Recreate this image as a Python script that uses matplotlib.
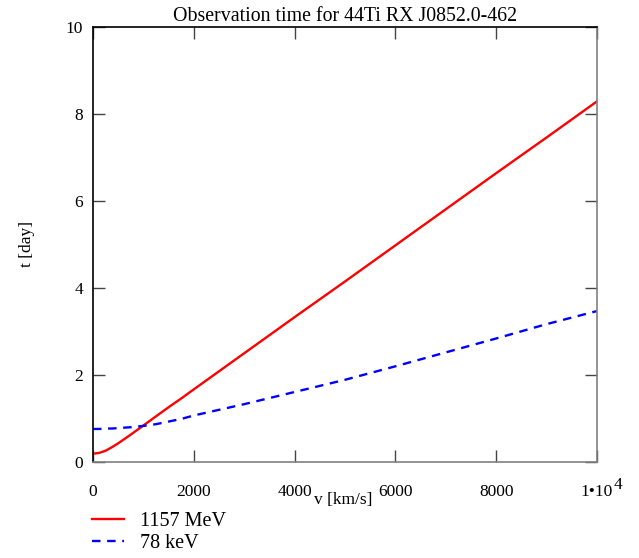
import matplotlib
matplotlib.use("Agg")
import matplotlib.pyplot as plt

plt.rcParams['font.family'] = ['Liberation Serif', 'DejaVu Serif']

# velocity [km/s]
v = [0, 125, 250, 375, 500, 750, 1000, 1250, 1500, 1750, 2000, 3000, 4000,
     5000, 6000, 7000, 8000, 9000, 10000]
# observation time [day]
t_mev = [0.19, 0.21, 0.26, 0.34, 0.43, 0.63, 0.84, 1.05, 1.26, 1.46, 1.67,
         2.50, 3.33, 4.15, 4.98, 5.81, 6.64, 7.46, 8.29]
t_kev = [0.76, 0.76, 0.77, 0.77, 0.78, 0.80, 0.83, 0.87, 0.93, 0.99, 1.07,
         1.33, 1.61, 1.89, 2.20, 2.52, 2.84, 3.17, 3.47]

xticks = [0, 2000, 4000, 6000, 8000, 10000]
xticklabels = ['0', '2000', '4000', '6000', '8000', '1•10']
yticks = [0, 2, 4, 6, 8, 10]

fig = plt.figure(figsize=(6.39, 5.58), dpi=100)
ax = fig.add_axes([0.1455, 0.172, 0.7887, 0.7796])

ax.plot(v, t_mev, color='red', lw=1.7, label='1157 MeV')
ax.plot(v, t_kev, color='blue', lw=1.7, dashes=(3.6, 2.8), label='78 keV')

ax.set_xlim(0, 10000)
ax.set_ylim(0, 10)
ax.set_xticks(xticks)
ax.set_xticklabels(xticklabels)
ax.set_yticks(yticks)
ax.tick_params(axis='both', direction='in', length=8.5, width=1, color='#444444',
               labelsize=12.5, top=True, right=True)
ax.tick_params(axis='x', pad=16)
ax.tick_params(axis='y', pad=7)
# exponent of the last x tick label
ax.annotate('4', xy=(1, 0), xycoords='axes fraction', xytext=(12, -11),
            textcoords='offset points', fontsize=12.5, ha='left', va='top')

ax.spines['top'].set_color('black')
ax.spines['left'].set_color('black')
ax.spines['right'].set_color('#808080')
ax.spines['bottom'].set_color('#808080')
for s in ax.spines.values():
    s.set_linewidth(1.2)

ax.set_title('Observation time for 44Ti RX J0852.0-462', fontsize=14.3, pad=4)
ax.text(0.496, -0.07, 'v [km/s]', transform=ax.transAxes, fontsize=12.5,
        ha='center', va='top')
fig.text(0.042, 0.563, 't [day]', rotation=90, fontsize=12.5, ha='center', va='center')

ax.legend(loc='upper left', bbox_to_anchor=(-0.002, -0.114), frameon=False,
          fontsize=14.5, handlelength=1.6, handletextpad=0.8, labelspacing=0.15,
          borderaxespad=0, borderpad=0)

fig.savefig('out.png', dpi=100)
